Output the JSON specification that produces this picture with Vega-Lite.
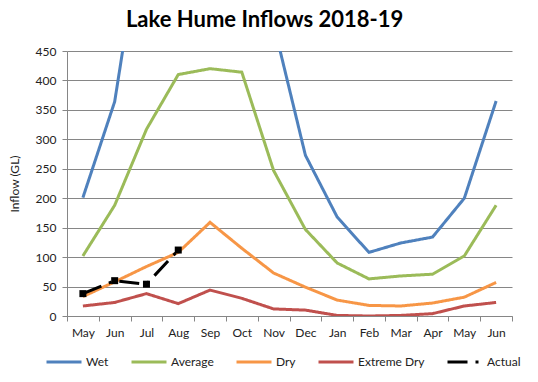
{
  "$schema": "https://vega.github.io/schema/vega-lite/v6.json",
  "width": 445,
  "height": 265,
  "autosize": {"type": "none"},
  "padding": {"left": 67, "top": 51, "right": 26, "bottom": 66},
  "background": "white",
  "title": {"text": "Lake Hume Inflows 2018-19", "fontSize": 22, "fontWeight": "bold", "font": "Lato", "color": "#000", "anchor": "middle", "frame": "bounds", "offset": 13},
  "config": {
    "font": "Lato",
    "view": {"stroke": null},
    "axis": {"labelFont": "Lato", "labelFontSize": 12, "labelColor": "#222", "titleFont": "Lato", "titleFontWeight": "normal", "titleFontSize": 12, "titleColor": "#222", "domainColor": "#868686", "tickColor": "#868686", "gridColor": "#868686", "gridOpacity": 1, "tickSize": 5}
  },
  "datasets": {
    "scen": [
      {"i": 0, "s": "Wet", "v": 201}, {"i": 1, "s": "Wet", "v": 364}, {"i": 2, "s": "Wet", "v": 708}, {"i": 3, "s": "Wet", "v": 900}, {"i": 4, "s": "Wet", "v": 950}, {"i": 5, "s": "Wet", "v": 800}, {"i": 6, "s": "Wet", "v": 496}, {"i": 7, "s": "Wet", "v": 273}, {"i": 8, "s": "Wet", "v": 168}, {"i": 9, "s": "Wet", "v": 108}, {"i": 10, "s": "Wet", "v": 124}, {"i": 11, "s": "Wet", "v": 134}, {"i": 12, "s": "Wet", "v": 200}, {"i": 13, "s": "Wet", "v": 365},
      {"i": 0, "s": "Average", "v": 102}, {"i": 1, "s": "Average", "v": 188}, {"i": 2, "s": "Average", "v": 317}, {"i": 3, "s": "Average", "v": 410}, {"i": 4, "s": "Average", "v": 420}, {"i": 5, "s": "Average", "v": 414}, {"i": 6, "s": "Average", "v": 247}, {"i": 7, "s": "Average", "v": 147}, {"i": 8, "s": "Average", "v": 90}, {"i": 9, "s": "Average", "v": 63}, {"i": 10, "s": "Average", "v": 68}, {"i": 11, "s": "Average", "v": 71}, {"i": 12, "s": "Average", "v": 102}, {"i": 13, "s": "Average", "v": 188},
      {"i": 0, "s": "Dry", "v": 33}, {"i": 1, "s": "Dry", "v": 58}, {"i": 2, "s": "Dry", "v": 84}, {"i": 3, "s": "Dry", "v": 108}, {"i": 4, "s": "Dry", "v": 159}, {"i": 5, "s": "Dry", "v": 115}, {"i": 6, "s": "Dry", "v": 73}, {"i": 7, "s": "Dry", "v": 49}, {"i": 8, "s": "Dry", "v": 27}, {"i": 9, "s": "Dry", "v": 18}, {"i": 10, "s": "Dry", "v": 17}, {"i": 11, "s": "Dry", "v": 22}, {"i": 12, "s": "Dry", "v": 32}, {"i": 13, "s": "Dry", "v": 57},
      {"i": 0, "s": "Extreme Dry", "v": 17}, {"i": 1, "s": "Extreme Dry", "v": 23}, {"i": 2, "s": "Extreme Dry", "v": 38}, {"i": 3, "s": "Extreme Dry", "v": 21}, {"i": 4, "s": "Extreme Dry", "v": 44}, {"i": 5, "s": "Extreme Dry", "v": 30}, {"i": 6, "s": "Extreme Dry", "v": 12}, {"i": 7, "s": "Extreme Dry", "v": 10}, {"i": 8, "s": "Extreme Dry", "v": 1}, {"i": 9, "s": "Extreme Dry", "v": 0}, {"i": 10, "s": "Extreme Dry", "v": 1}, {"i": 11, "s": "Extreme Dry", "v": 4}, {"i": 12, "s": "Extreme Dry", "v": 17}, {"i": 13, "s": "Extreme Dry", "v": 23}
    ],
    "act": [
      {"i": 0, "s": "Actual", "v": 38}, {"i": 1, "s": "Actual", "v": 60}, {"i": 2, "s": "Actual", "v": 54}, {"i": 3, "s": "Actual", "v": 112}
    ]
  },
  "encoding": {
    "x": {"field": "i", "type": "ordinal", "scale": {"type": "band", "domain": [0,1,2,3,4,5,6,7,8,9,10,11,12,13], "paddingInner": 0, "paddingOuter": 0},
      "axis": {"title": null, "labelAngle": 0, "tickBand": "extent", "labelPadding": 6, "labelExpr": "['May','Jun','Jul','Aug','Sep','Oct','Nov','Dec','Jan','Feb','Mar','Apr','May','Jun'][datum.value]"}},
    "y": {"field": "v", "type": "quantitative", "scale": {"domain": [0, 450], "nice": false},
      "axis": {"title": "Inflow (GL)", "values": [0,50,100,150,200,250,300,350,400,450], "grid": true, "labelPadding": 6, "titlePadding": 14}}
  },
  "layer": [
    {
      "data": {"name": "scen"},
      "mark": {"type": "line", "strokeWidth": 3, "clip": true},
      "encoding": {
        "color": {"field": "s", "type": "nominal", "scale": {"domain": ["Wet", "Average", "Dry", "Extreme Dry", "Actual"], "range": ["#4F81BD", "#9BBB59", "#F79646", "#C0504D", "#000000"]},
          "legend": {"title": null, "orient": "none", "direction": "horizontal", "legendX": -22, "legendY": 292, "symbolType": "stroke", "symbolSize": 1225, "symbolStrokeWidth": 3, "labelOffset": 3, "columnPadding": 16, "labelFont": "Lato", "labelFontSize": 12, "labelColor": "#222", "padding": 0}},
        "strokeDash": {"field": "s", "type": "nominal", "scale": {"domain": ["Wet", "Average", "Dry", "Extreme Dry", "Actual"], "range": [[1,0],[1,0],[1,0],[1,0],[20,8,3,8]]}, "legend": null}
      }
    },
    {
      "data": {"name": "act"},
      "mark": {"type": "line", "strokeWidth": 3, "clip": true},
      "encoding": {
        "color": {"field": "s", "type": "nominal"},
        "strokeDash": {"field": "s", "type": "nominal"}
      }
    },
    {
      "data": {"name": "act"},
      "mark": {"type": "square", "size": 49, "filled": true, "opacity": 1, "color": "#000"}
    }
  ]
}
